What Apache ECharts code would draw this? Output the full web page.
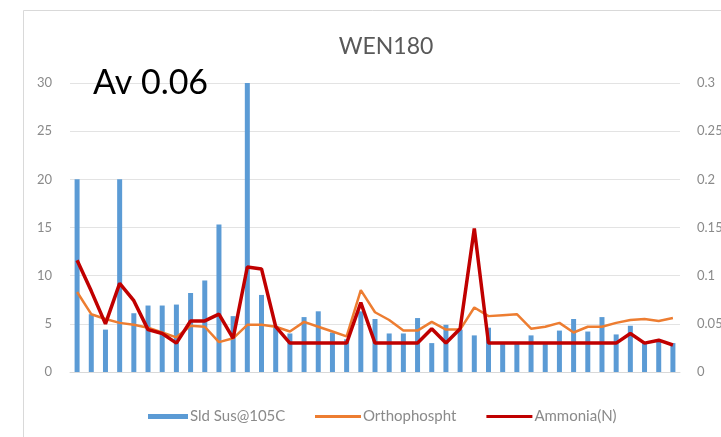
<!DOCTYPE html>
<html>
<head>
<meta charset="utf-8">
<title>WEN180</title>
<script src="https://cdn.jsdelivr.net/npm/echarts@6/dist/echarts.min.js"></script>
<style>
  html, body { margin: 0; padding: 0; background: #fff; }
  #chart { width: 721px; height: 437px; }
</style>
</head>
<body>
<div id="chart"></div>
<script>
// sample index along the x axis (no labels shown on the chart)
const samples = [];
for (let i = 1; i <= 43; i++) samples.push(String(i));

// Sld Sus@105C, left axis
const solids = [20, 6, 4.4, 20, 6.1, 6.9, 6.9, 7, 8.2, 9.5,
  15.3, 5.8, 30, 8, 4.8, 4, 5.7, 6.3, 4.1, 3.4,
  6.3, 5.5, 4, 4, 5.6, 3, 4.9, 4.4, 3.8, 4.6,
  3, 3, 3.8, 2.9, 4.3, 5.5, 4.2, 5.7, 3.9, 4.8,
  3, 3.2, 3];

// Orthophospht, right axis
const ortho = [0.083, 0.06, 0.055, 0.051, 0.049, 0.046, 0.041, 0.036, 0.048, 0.047,
  0.031, 0.035, 0.049, 0.049, 0.047, 0.042, 0.052, 0.047, 0.042, 0.037,
  0.085, 0.062, 0.054, 0.043, 0.043, 0.052, 0.044, 0.044, 0.067, 0.058,
  0.059, 0.06, 0.045, 0.047, 0.051, 0.041, 0.047, 0.047, 0.051, 0.054,
  0.055, 0.053, 0.056];

// Ammonia(N), right axis
const ammonia = [0.116, 0.084, 0.05, 0.092, 0.074, 0.044, 0.04, 0.03, 0.053, 0.053,
  0.06, 0.035, 0.109, 0.107, 0.047, 0.03, 0.03, 0.03, 0.03, 0.03,
  0.072, 0.03, 0.03, 0.03, 0.03, 0.045, 0.03, 0.045, 0.149, 0.03,
  0.03, 0.03, 0.03, 0.03, 0.03, 0.03, 0.03, 0.03, 0.03, 0.04,
  0.03, 0.033, 0.028];

const seriesNames = ['Sld Sus@105C', 'Orthophospht', 'Ammonia(N)'];
const titleText = 'WEN180';
const noteText = 'Av 0.06';

const font = 'Lato, "Open Sans", sans-serif';
const grey = '#8a8a8a';
const legendText = { fontSize: 15, color: grey, padding: [0, 0, 0, -3] };

const chart = echarts.init(document.getElementById('chart'), null, { renderer: 'canvas' });

chart.setOption({
  animation: false,
  backgroundColor: '#fff',
  textStyle: { fontFamily: font },
  title: {
    text: titleText,
    left: 381,
    top: 30,
    textAlign: 'center',
    textStyle: { fontSize: 23, fontWeight: 'normal', color: '#595959', fontFamily: font }
  },
  graphic: [
    {
      type: 'rect',
      left: 21, top: 8,
      shape: { width: 760, height: 428 },
      style: { fill: 'none', stroke: '#d9d9d9', lineWidth: 1 },
      silent: true,
      z: -1
    },
    {
      type: 'text',
      left: 93,
      top: 66,
      style: { text: noteText, font: '34px ' + font, fill: '#000' },
      z: 10
    }
  ],
  // bar key and line keys use different icon thickness, so two legends
  legend: [
    {
      left: 143,
      top: 404,
      itemWidth: 40,
      itemHeight: 5,
      textStyle: legendText,
      data: [{ name: seriesNames[0], icon: 'rect' }]
    },
    {
      left: 310,
      top: 404,
      itemWidth: 46,
      itemHeight: 3,
      itemGap: 30,
      textStyle: legendText,
      data: [
        { name: seriesNames[1], icon: 'rect' },
        { name: seriesNames[2], icon: 'rect' }
      ]
    }
  ],
  grid: { left: 70, right: 41, top: 83, bottom: 65, outerBoundsMode: 'none' },
  xAxis: {
    type: 'category',
    data: samples,
    axisLine: { show: true, lineStyle: { color: '#d9d9d9' } },
    axisTick: { show: false },
    axisLabel: { show: false }
  },
  yAxis: [
    {
      type: 'value',
      min: 0, max: 30, interval: 5,
      axisLine: { show: false },
      axisTick: { show: false },
      axisLabel: { color: grey, fontSize: 13, margin: 18 },
      splitLine: { lineStyle: { color: '#e3e3e3' } }
    },
    {
      type: 'value',
      min: 0, max: 0.3, interval: 0.05,
      position: 'right',
      axisLine: { show: false },
      axisTick: { show: false },
      axisLabel: { color: grey, fontSize: 13, margin: 17, hideOverlap: false },
      splitLine: { show: false }
    }
  ],
  series: [
    {
      name: seriesNames[0],
      type: 'bar',
      data: solids,
      barWidth: 5,
      itemStyle: { color: '#5b9bd5' }
    },
    {
      name: seriesNames[1],
      type: 'line',
      yAxisIndex: 1,
      data: ortho,
      symbol: 'none',
      lineStyle: { color: '#ed7d31', width: 2.5 },
      itemStyle: { color: '#ed7d31' }
    },
    {
      name: seriesNames[2],
      type: 'line',
      yAxisIndex: 1,
      data: ammonia,
      symbol: 'none',
      lineStyle: { color: '#c00000', width: 3.5 },
      itemStyle: { color: '#c00000' }
    }
  ]
});
</script>
</body>
</html>
